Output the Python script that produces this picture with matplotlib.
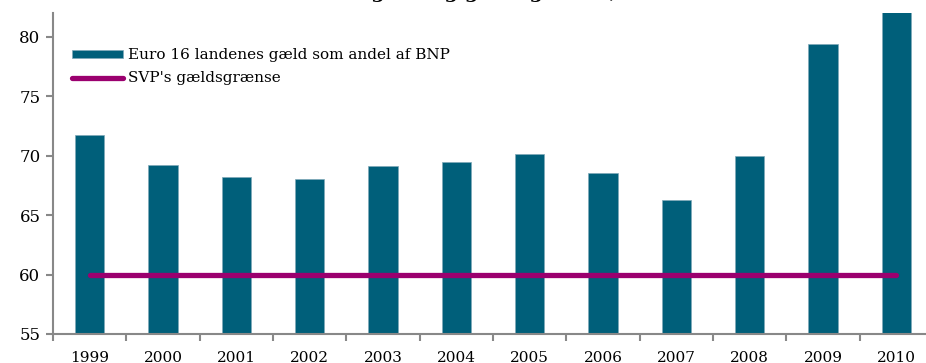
import matplotlib
matplotlib.use("Agg")
import matplotlib.pyplot as plt
import numpy as np

years = ["1999", "2000", "2001", "2002", "2003", "2004",
         "2005", "2006", "2007", "2008", "2009", "2010"]
debt_share = [71.7, 69.2, 68.2, 68.0, 69.1, 69.5, 70.1, 68.5, 66.3, 70.0, 79.4, 84.0]
debt_limit = [60] * len(years)
yticks = [55, 60, 65, 70, 75, 80]

BAR = "#005f7a"
LIMIT = "#9b006f"
SPINE = "#888888"

plt.rcParams["font.family"] = ["DejaVu Serif"]

fig = plt.figure(figsize=(9.26, 3.63), dpi=100)
ax = fig.add_axes([53 / 926, 29 / 363, 880 / 926, 321 / 363])

x = np.arange(len(years))
bars = ax.bar(x, debt_share, width=0.4, color=BAR, edgecolor="#7fa9b8", linewidth=0.5,
              label="Euro 16 landenes gæld som andel af BNP", zorder=2)
line, = ax.plot(x, debt_limit, color=LIMIT, lw=3.8, solid_capstyle="round",
                label="SVP's gældsgrænse", zorder=3)

ax.set_xlim(-0.5, len(years) - 0.5)
ax.set_ylim(55, 82)
ax.set_yticks(yticks)
ax.set_xticks(x)
ax.set_xticklabels(years)
# tick marks sit between the categories
ax.set_xticks(np.arange(len(years) + 1) - 0.5, minor=True)
ax.tick_params(axis="x", which="major", length=0, pad=12, labelsize=11)
ax.tick_params(axis="x", which="minor", length=5, width=1.5, color=SPINE)
ax.tick_params(axis="y", length=5, width=1.5, color=SPINE, labelsize=12, pad=4)

for side in ("top", "right"):
    ax.spines[side].set_visible(False)
for side in ("left", "bottom"):
    ax.spines[side].set_color(SPINE)
    ax.spines[side].set_linewidth(1.5)

ax.legend([bars, line], [bars.get_label(), line.get_label()],
          loc="upper left", bbox_to_anchor=(0.022, 0.89), frameon=False,
          fontsize=11, handlelength=3.3, handleheight=0.45, handletextpad=0.35,
          labelspacing=0.6, borderaxespad=0, borderpad=0)

fig.text(740 / 926, 1.006, "Euro 16 landenes gæld og gældsgrænse, 1999-2010",
         ha="right", va="baseline", fontsize=14, fontweight="bold")

fig.savefig("out.png", dpi=100)
